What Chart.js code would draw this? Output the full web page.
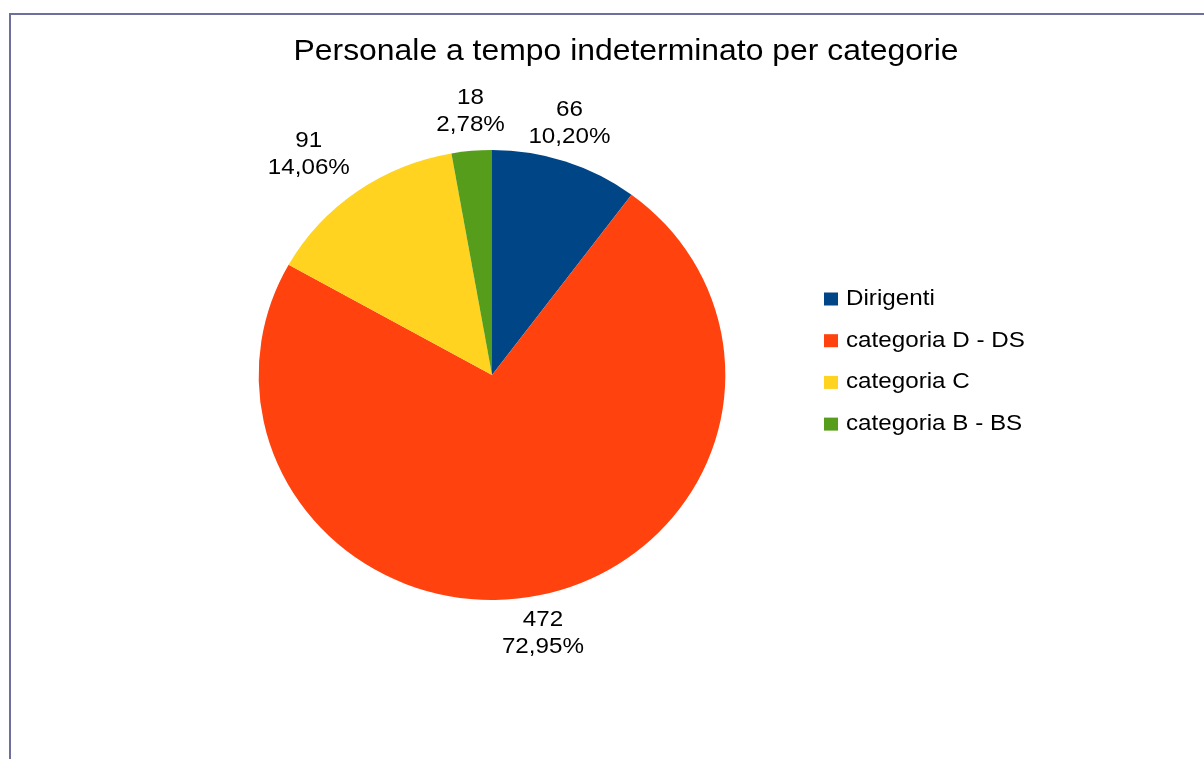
<!DOCTYPE html>
<html>
<head>
<meta charset="utf-8">
<script src="https://cdn.jsdelivr.net/npm/chart.js@4/dist/chart.umd.min.js"></script>
<style>
  html, body { margin: 0; padding: 0; background: #fff; overflow: hidden; }
  #wrap { position: relative; width: 1204px; height: 759px; }
  #frame {
    position: absolute; left: 9px; top: 13px; right: -10px; bottom: -10px;
    border-left: 2px solid #6f6f9e; border-top: 2px solid #6f6f9e;
  }
  canvas { position: absolute; left: 0; top: 0; }
</style>
</head>
<body>
<div id="wrap">
  <div id="frame"></div>
  <canvas id="pie" width="1204" height="759"></canvas>
</div>
<script>
// chart data
const title = 'Personale a tempo indeterminato per categorie';
const categories = ['Dirigenti', 'categoria D - DS', 'categoria C', 'categoria B - BS'];
const values = [66, 472, 91, 18];
const colors = ['#004586', '#ff420e', '#ffd320', '#579d1c'];

const FONT = '"Liberation Sans", Arial, sans-serif';
const STRETCH = 1.1;   // text in the reference is a bit wider than plain Arial
const PIE_SX = 1.037;  // the pie is slightly wider than tall in the reference

// draw text slightly widened horizontally
function wideText(ctx, text, x, y, align) {
  ctx.save();
  ctx.translate(x, y);
  ctx.scale(STRETCH, 1);
  ctx.textAlign = align;
  ctx.fillText(text, 0, 0);
  ctx.restore();
}

// widen the pie a little around its centre
const stretchPie = {
  id: 'stretchPie',
  beforeDatasetsDraw(chart) {
    const arc = chart.getDatasetMeta(0).data[0];
    const ctx = chart.ctx;
    ctx.save();
    ctx.translate(arc.x, 0);
    ctx.scale(PIE_SX, 1);
    ctx.translate(-arc.x, 0);
  },
  afterDatasetsDraw(chart) {
    chart.ctx.restore();
  }
};

const textPlugin = {
  id: 'textPlugin',
  afterDraw(chart) {
    const ctx = chart.ctx;
    const total = values.reduce((s, v) => s + v, 0);
    ctx.save();
    ctx.fillStyle = '#000';

    // title
    ctx.font = '29px ' + FONT;
    ctx.textBaseline = 'alphabetic';
    wideText(ctx, title, 626, 60, 'center');

    // value labels outside the slices
    ctx.font = '22px ' + FONT;
    ctx.textBaseline = 'middle';
    const lim = Math.sin(Math.PI / 8);
    const meta = chart.getDatasetMeta(0);
    meta.data.forEach((arc, i) => {
      const p = arc.getProps(['x', 'y', 'startAngle', 'endAngle', 'outerRadius'], true);
      const mid = (p.startAngle + p.endAngle) / 2;
      const dx = Math.cos(mid), dy = Math.sin(mid);
      const line1 = String(values[i]);
      const line2 = (values[i] / total * 100).toFixed(2).replace('.', ',') + '%';
      const w = Math.max(ctx.measureText(line1).width, ctx.measureText(line2).width) * STRETCH;
      const h = 54;
      const gap = 12;
      const ax = p.x + dx * (p.outerRadius + gap) * PIE_SX;
      const ay = p.y + dy * (p.outerRadius + gap);
      // box alignment by octant, like the office chart
      let cx = ax, cy = ay;
      if (Math.abs(dx) >= lim) cx += (dx > 0 ? 1 : -1) * w / 2;
      if (Math.abs(dy) >= lim) cy += (dy > 0 ? 1 : -1) * h / 2;
      wideText(ctx, line1, cx, cy - 13.5, 'center');
      wideText(ctx, line2, cx, cy + 13.5, 'center');
    });

    // legend
    ctx.font = '22px ' + FONT;
    categories.forEach((c, i) => {
      const rowY = 299 + i * 41.7;
      ctx.fillStyle = colors[i];
      ctx.fillRect(824, rowY - 6.5, 14, 13);
      ctx.fillStyle = '#000';
      wideText(ctx, c, 846, rowY, 'left');
    });
    ctx.restore();
  }
};

new Chart(document.getElementById('pie'), {
  type: 'pie',
  data: {
    labels: categories,
    datasets: [{
      data: values,
      backgroundColor: colors,
      borderWidth: 0,
      hoverOffset: 0,
      offset: 0
    }]
  },
  options: {
    responsive: false,
    devicePixelRatio: 1,
    animation: false,
    events: [],
    layout: {
      padding: { left: 267, top: 150, right: 487, bottom: 159 }
    },
    plugins: {
      legend: { display: false },
      title: { display: false },
      tooltip: { enabled: false }
    }
  },
  plugins: [stretchPie, textPlugin]
});
</script>
</body>
</html>
